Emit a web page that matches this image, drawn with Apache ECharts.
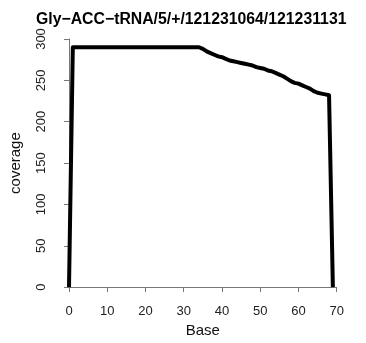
<!DOCTYPE html>
<html><head><meta charset="utf-8">
<script src="https://cdn.jsdelivr.net/npm/echarts@6/dist/echarts.min.js"></script>
<style>html,body{margin:0;padding:0;background:#fff}#c{width:366px;height:343px}</style>
</head><body><div id="c"></div>
<script>
const titleText = "Gly−ACC−tRNA/5/+/121231064/121231131";
const bases = [];
for (let i = 0; i <= 69; i++) bases.push(i);
const coverage = [0,
 290,290,290,290,290,290,290,290,290,290,
 290,290,290,290,290,290,290,290,290,290,
 290,290,290,290,290,290,290,290,290,290,
 290,290,290,290,
 288,285,283,281,279,278,276,274,273,272,
 271,270,269,268,266,265,264,262,261,259,
 257,255,252,249,247,246,244,242,240,237,
 235,234,233,232,
 0];
const xTicks = [0,10,20,30,40,50,60,70];
const yTicks = [0,50,100,150,200,250,300];

const chart = echarts.init(document.getElementById('c'), null, {renderer:'canvas'});
const font = '"Liberation Sans", Arial, sans-serif';
chart.setOption({
  animation:false,
  title:{text:titleText,left:31,top:7,
    textStyle:{fontFamily:font,fontWeight:'bold',fontSize:15.8,color:'#000'}},
  grid:{left:63.3,right:29.3,top:39,bottom:55},
  xAxis:{type:'value',min:0,max:70,interval:10,offset:11,
    name:'Base',nameLocation:'middle',nameGap:24,
    nameTextStyle:{fontFamily:font,fontSize:15,color:'#111'},
    axisLine:{show:true,lineStyle:{color:'#777',width:1}},
    axisTick:{show:true,length:5,lineStyle:{color:'#777'}},
    axisLabel:{fontFamily:font,fontSize:13,color:'#222',margin:7},
    splitLine:{show:false}},
  yAxis:{type:'value',min:0,max:300,interval:50,offset:11,
    name:'coverage',nameLocation:'middle',nameGap:35,nameRotate:90,
    nameTextStyle:{fontFamily:font,fontSize:15,color:'#111'},
    axisLine:{show:true,lineStyle:{color:'#777',width:1}},
    axisTick:{show:true,length:5,lineStyle:{color:'#777'}},
    axisLabel:{fontFamily:font,fontSize:13,color:'#222',rotate:90,margin:10},
    splitLine:{show:false}},
  series:[{type:'line',data:bases.map((b,i)=>[b,coverage[i]]),
    showSymbol:false,symbol:'none',clip:false,
    lineStyle:{color:'#000',width:4,join:'round'}}]
});
</script></body></html>
